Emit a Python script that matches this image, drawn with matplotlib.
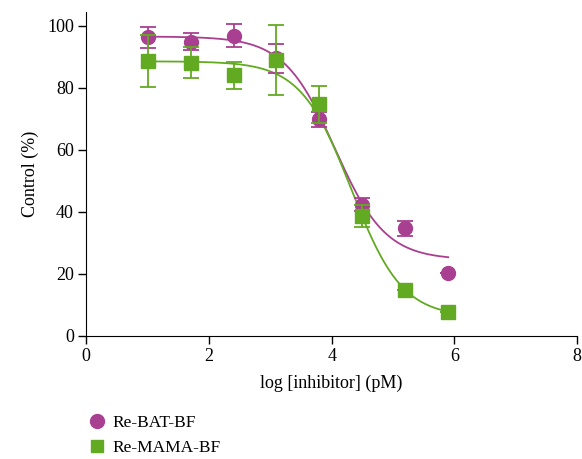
import numpy as np
import matplotlib
matplotlib.use("Agg")
import matplotlib.pyplot as plt
from matplotlib.lines import Line2D

# Data
log_conc = [1.0, 1.7, 2.4, 3.1, 3.8, 4.5, 5.2, 5.9]
bat_mean = [96.2, 94.8, 96.8, 89.5, 69.8, 42.3, 34.6, 20.2]
bat_err = [3.5, 2.8, 3.7, 4.7, 2.4, 2.2, 2.4, 0.0]
mama_mean = [88.6, 88.0, 84.0, 88.8, 74.6, 38.6, 14.8, 7.6]
mama_err = [8.4, 5.0, 4.3, 11.3, 6.0, 3.5, 0.0, 0.0]

# 4PL fit parameters (top, bottom, logIC50, hill)
bat_fit = (96.5, 24.5, 4.05, 1.05)
mama_fit = (88.5, 6.0, 4.32, 1.05)

labels = ["Re-BAT-BF", "Re-MAMA-BF"]
x_ticks = [0, 2, 4, 6, 8]
y_ticks = [0, 20, 40, 60, 80, 100]

purple = "#A93F91"
green = "#62AA22"

plt.rcParams['font.family'] = ['Liberation Serif', 'DejaVu Serif']

fig = plt.figure(figsize=(5.82, 4.59), dpi=100)
ax = fig.add_axes([86.3 / 582, (459 - 335.7) / 459, (577 - 86.3) / 582, (335.7 - 11.7) / 459])


def logistic(x, p):
    top, bottom, c, h = p
    return bottom + (top - bottom) / (1 + 10 ** ((x - c) * h))


xs = np.linspace(log_conc[0], log_conc[-1], 300)
ax.plot(xs, logistic(xs, bat_fit), color=purple, lw=1.3, zorder=2)
ax.plot(xs, logistic(xs, mama_fit), color=green, lw=1.3, zorder=2)

be = np.array(bat_err)
me = np.array(mama_err)
ax.errorbar(log_conc, bat_mean, yerr=be, fmt='o', color=purple, ms=10,
            capsize=6, elinewidth=1.3, capthick=1.3, zorder=3)
ax.errorbar(log_conc, mama_mean, yerr=me, fmt='s', color=green, ms=9.5,
            capsize=6, elinewidth=1.3, capthick=1.3, zorder=4)

ax.set_xlim(0, 8)
ax.set_ylim(0, 104.5)
ax.set_xticks(x_ticks)
ax.set_yticks(y_ticks)
ax.spines['top'].set_visible(False)
ax.spines['right'].set_visible(False)
ax.tick_params(direction='out', length=6, width=1, labelsize=13, pad=3)
ax.set_xlabel("log [inhibitor] (pM)", fontsize=13, labelpad=7)
ax.set_ylabel("Control (%)", fontsize=13, labelpad=6)

handles = [Line2D([], [], marker='o', color=purple, ls='none', ms=10),
           Line2D([], [], marker='s', color=green, ls='none', ms=9)]
fig.legend(handles, labels, loc='upper left', bbox_to_anchor=(0.151, 0.097),
           frameon=False, fontsize=12.5, handletextpad=0.4, labelspacing=0.55,
           handlelength=1.0, borderaxespad=0, borderpad=0)

fig.savefig("out.png", dpi=100)
